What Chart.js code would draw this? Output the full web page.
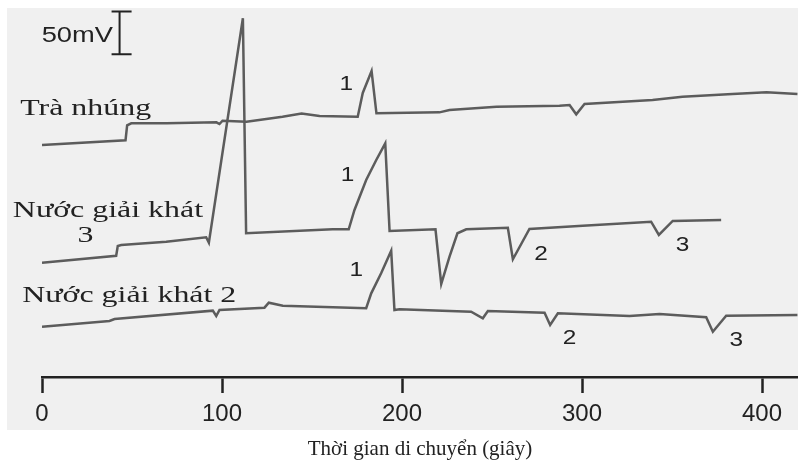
<!DOCTYPE html>
<html>
<head>
<meta charset="utf-8">
<script src="https://cdn.jsdelivr.net/npm/chart.js@4.4.0/dist/chart.umd.min.js"></script>
<style>
  body { margin: 0; background: #ffffff; }
  canvas { display: block; }
</style>
</head>
<body>
<canvas id="graphique" width="798" height="462"></canvas>
<script>
const tnTime = [0, 46.4, 47.3, 49.6, 69.2, 96.9, 98.6, 100.3, 113.6, 133.6, 144.2, 154.2, 175.4, 178.2, 183.1, 185.8,
  220.8, 226.4, 252.5, 287.5, 293.1, 296.8, 301.4, 339.2, 355.8, 383.6, 402.5, 419.7];
const tnSignal = [270.3, 275.8, 293.3, 295.6, 295.6, 296.8, 294.8, 298.7, 297.5, 303.3, 307.0, 304.1, 303.3, 331.0, 356.6, 307.3,
  308.4, 311.1, 315.0, 316.1, 317.0, 306.1, 318.1, 322.7, 326.6, 329.8, 331.8, 329.8];

const ngk3Time = [0, 41.2, 42.1, 44.0, 69.0, 91.2, 92.7, 111.6, 113.4, 161.4, 170.4, 173.6, 180.1, 185.7, 190.7, 193.1,
  218.6, 221.8, 226.4, 230.8, 235.7, 258.8, 261.6, 270.8, 300.4, 338.4, 342.7, 350.4, 377.3];
const ngk3Signal = [133.2, 141.3, 152.7, 153.8, 157.7, 162.8, 156.5, 418.0, 167.5, 172.1, 172.1, 194.6, 229.6, 252.9, 272.3, 170.1,
  172.1, 108.4, 140.2, 167.5, 172.1, 174.0, 137.2, 172.5, 176.3, 181.0, 165.5, 181.8, 183.0];

const ngk2Time = [0, 37.5, 40.3, 94.9, 96.8, 98.6, 123.6, 126.0, 133.8, 180.1, 182.9, 188.4, 194.0, 195.8, 198.6,
  238.4, 244.9, 247.7, 279.2, 282.3, 286.6, 326.4, 343.1, 369.0, 372.7, 380.1, 419.7];
const ngk2Signal = [58.6, 65.3, 67.6, 77.3, 71.1, 78.1, 80.8, 86.6, 83.1, 80.1, 97.5, 120.8, 147.2, 78.1, 78.9,
  76.1, 68.4, 76.9, 74.9, 60.6, 74.2, 71.1, 73.4, 69.6, 52.8, 71.4, 72.2];

const xTicks = [0, 100, 200, 300, 400];

// Noms des échantillons et numéros des pics
const nomsSeries = [
  { text: 'Trà nhúng', t: -12.1, v: 305.3, align: 'left' },
  { text: 'Nước giải khát', t: -16.2, v: 186.1, align: 'left' },
  { text: '3', t: 24.2, v: 157.7, align: 'center' },
  { text: 'Nước giải khát 2', t: -11.0, v: 87.7, align: 'left' }
];
const numerosPics = [
  { text: '1', t: 169.0, v: 340.3 },
  { text: '1', t: 169.7, v: 235.4 },
  { text: '2', t: 277.3, v: 142.2 },
  { text: '3', t: 355.8, v: 152.7 },
  { text: '1', t: 174.6, v: 124.7 },
  { text: '2', t: 293.1, v: 45.4 },
  { text: '3', t: 385.7, v: 43.1 }
];

function points(times, signal) {
  return times.map((t, i) => ({ x: t, y: signal[i] }));
}

// Texte étiré horizontalement comme sur la figure d'origine
function texteEtire(ctx, text, x, y, sx, align, baseline) {
  ctx.save();
  ctx.translate(x, y);
  ctx.scale(sx, 1);
  ctx.textAlign = align;
  ctx.textBaseline = baseline;
  ctx.fillText(text, 0, 0);
  ctx.restore();
}

const decor = {
  id: 'decor',
  beforeDraw(chart) {
    const ctx = chart.ctx;
    ctx.save();
    ctx.fillStyle = '#f0f0f0';
    ctx.fillRect(7, 8, 791, 422);
    ctx.restore();
  },
  afterDatasetsDraw(chart) {
    const ctx = chart.ctx;
    const xs = chart.scales.x;
    const ys = chart.scales.y;
    ctx.save();
    ctx.fillStyle = '#222';
    ctx.strokeStyle = '#222';

    // barre d'échelle 50 mV
    const bx = xs.getPixelForValue(43.1);
    const bTop = ys.getPixelForValue(426);
    const bBot = ys.getPixelForValue(376);
    ctx.lineWidth = 2;
    ctx.beginPath();
    ctx.moveTo(bx, bTop); ctx.lineTo(bx, bBot);
    ctx.moveTo(bx - 8, bTop); ctx.lineTo(bx + 12, bTop);
    ctx.moveTo(bx - 8, bBot); ctx.lineTo(bx + 12, bBot);
    ctx.stroke();
    ctx.font = '22px "Liberation Sans", Arial, sans-serif';
    texteEtire(ctx, '50mV', 41.7, 41.7, 1.24, 'left', 'alphabetic');

    ctx.font = '24px "Liberation Serif", "Times New Roman", serif';
    nomsSeries.forEach(n => {
      texteEtire(ctx, n.text, xs.getPixelForValue(n.t), ys.getPixelForValue(n.v), 1.33, n.align, 'alphabetic');
    });

    ctx.font = '20px "Liberation Sans", Arial, sans-serif';
    numerosPics.forEach(n => {
      texteEtire(ctx, n.text, xs.getPixelForValue(n.t), ys.getPixelForValue(n.v), 1.22, 'center', 'middle');
    });
    ctx.restore();
  }
};

const styleLigne = { borderColor: '#5c5c5c', borderWidth: 2.5, pointRadius: 0, tension: 0, fill: false };

new Chart(document.getElementById('graphique').getContext('2d'), {
  type: 'line',
  data: {
    datasets: [
      { label: 'Trà nhúng', data: points(tnTime, tnSignal), ...styleLigne },
      { label: 'Nước giải khát 3', data: points(ngk3Time, ngk3Signal), ...styleLigne },
      { label: 'Nước giải khát 2', data: points(ngk2Time, ngk2Signal), ...styleLigne }
    ]
  },
  options: {
    responsive: false,
    animation: false,
    devicePixelRatio: 1,
    layout: { padding: { top: 8, left: 42, right: 0, bottom: 0 } },
    plugins: { legend: { display: false }, tooltip: { enabled: false } },
    scales: {
      x: {
        type: 'linear',
        min: 0,
        max: 420,
        afterBuildTicks: scale => { scale.ticks = xTicks.map(v => ({ value: v })); },
        ticks: { color: '#222', padding: 7, maxRotation: 0, font: { family: '"Liberation Sans", Arial, sans-serif', size: 24 } },
        grid: { drawOnChartArea: false, drawTicks: true, tickLength: 16, tickColor: '#222', tickWidth: 2.5 },
        border: { display: true, color: '#222', width: 2.5 },
        title: {
          display: true,
          text: 'Thời gian di chuyển (giây)',
          color: '#222',
          padding: { top: 1, bottom: 0 },
          font: { family: '"Liberation Serif", "Times New Roman", serif', size: 21 }
        }
      },
      y: { type: 'linear', display: false, min: 0, max: 430 }
    }
  },
  plugins: [decor]
});
</script>
</body>
</html>
